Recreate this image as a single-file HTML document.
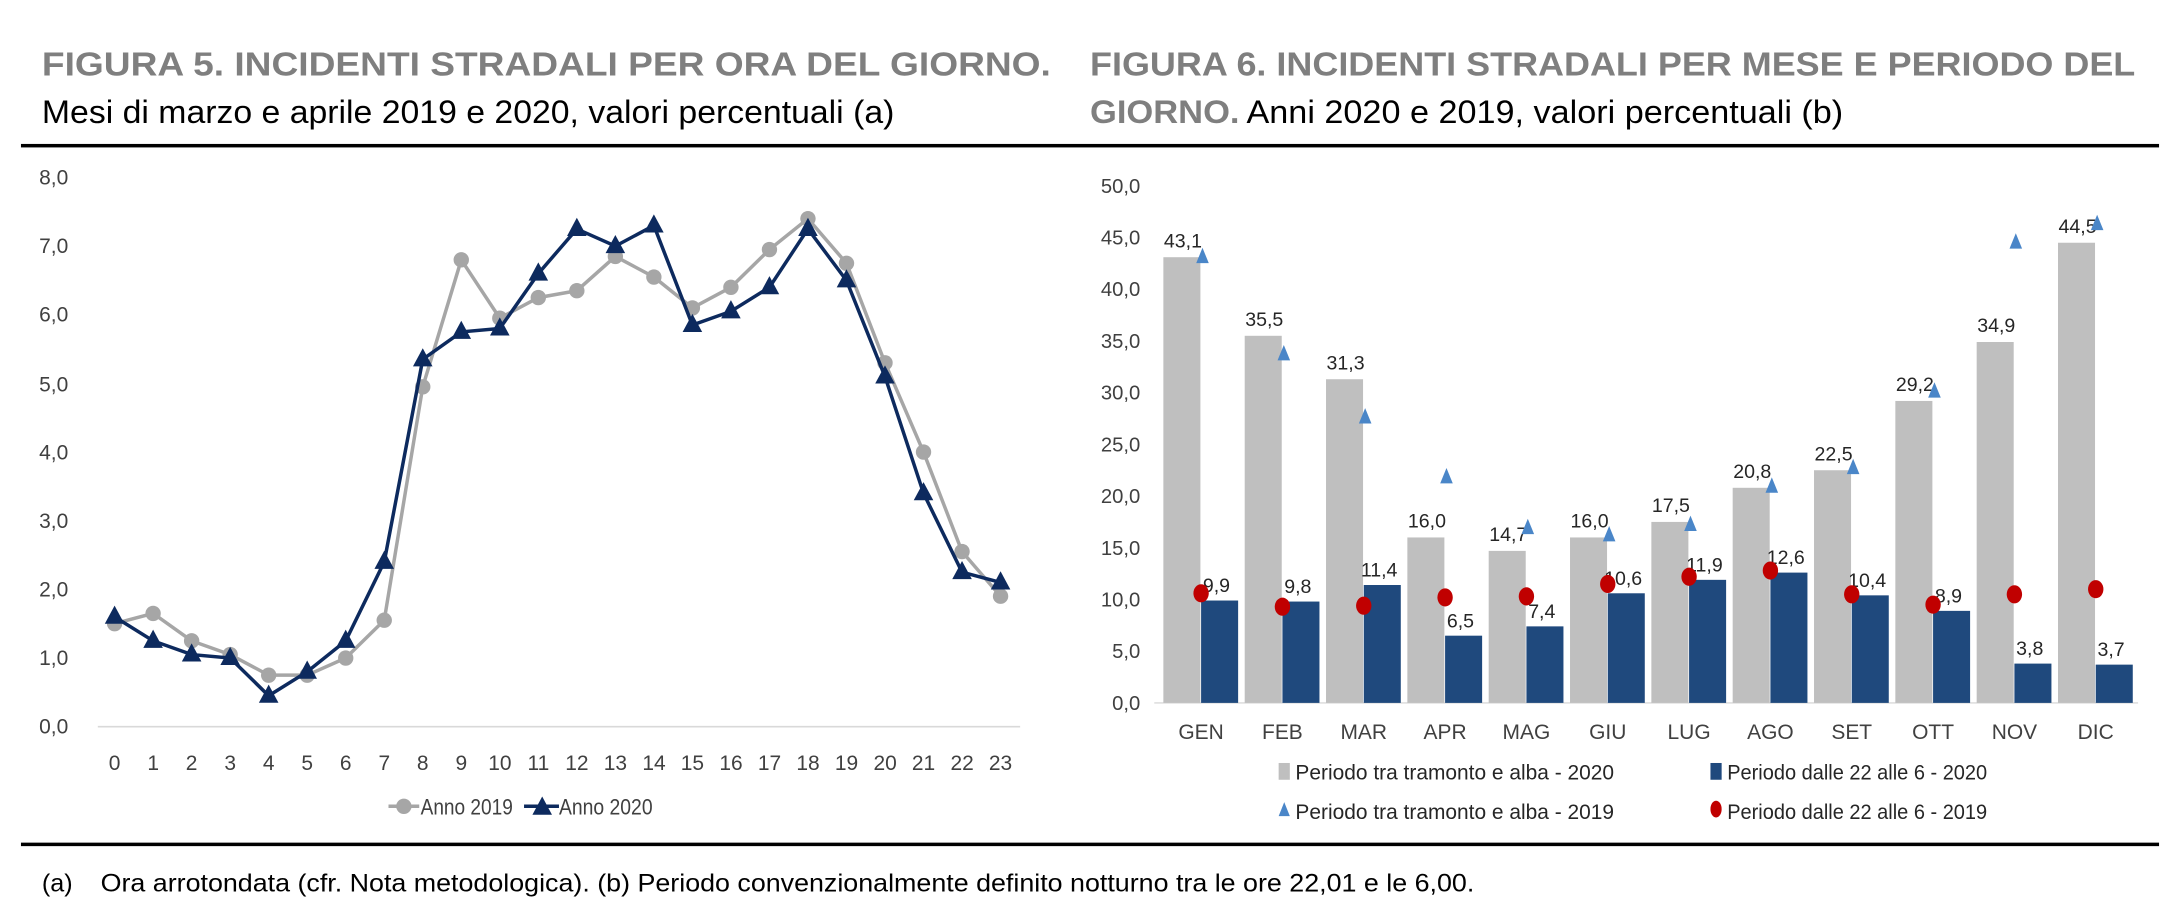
<!DOCTYPE html>
<html><head><meta charset="utf-8"><style>
html,body{margin:0;padding:0;background:#fff;width:2180px;height:916px;overflow:hidden}
svg{display:block}
text{font-family:"Liberation Sans Narrow","Liberation Sans",sans-serif}
</style></head><body>
<svg width="2180" height="916" viewBox="0 0 1560 655.5" preserveAspectRatio="none" xmlns="http://www.w3.org/2000/svg">
<text x="30" y="54" font-size="24" font-weight="bold" fill="#7f7f7f" textLength="722" lengthAdjust="spacingAndGlyphs">FIGURA 5. INCIDENTI STRADALI PER ORA DEL GIORNO.</text>
<text x="30" y="88" font-size="23" fill="#000" textLength="610" lengthAdjust="spacingAndGlyphs">Mesi di marzo e aprile 2019 e 2020, valori percentuali (a)</text>
<text x="780" y="54" font-size="24" font-weight="bold" fill="#7f7f7f" textLength="748" lengthAdjust="spacingAndGlyphs">FIGURA 6. INCIDENTI STRADALI PER MESE E PERIODO DEL</text>
<text x="780" y="88" font-size="23" fill="#7f7f7f" font-weight="bold" textLength="107" lengthAdjust="spacingAndGlyphs">GIORNO.</text>
<text x="892" y="88" font-size="23" fill="#000" textLength="427" lengthAdjust="spacingAndGlyphs">Anni 2020 e 2019, valori percentuali (b)</text>
<rect x="15" y="103" width="1530" height="2.5" fill="#000"/>
<rect x="15" y="603" width="1530" height="2.5" fill="#000"/>
<text x="30" y="638" font-size="18" fill="#000">(a)</text>
<text x="72" y="638" font-size="18" fill="#000" textLength="983" lengthAdjust="spacingAndGlyphs">Ora arrotondata (cfr. Nota metodologica). (b) Periodo convenzionalmente definito notturno tra le ore 22,01 e le 6,00.</text>

<g font-size="15" fill="#404040">
<text x="28" y="132">8,0</text><text x="28" y="181">7,0</text><text x="28" y="230">6,0</text><text x="28" y="280">5,0</text><text x="28" y="329">4,0</text><text x="28" y="378">3,0</text><text x="28" y="427">2,0</text><text x="28" y="476">1,0</text><text x="28" y="525">0,0</text>
</g>
<line x1="70" y1="520" x2="730" y2="520" stroke="#d9d9d9" stroke-width="1.2"/>
<g font-size="15" fill="#404040" text-anchor="middle">
<text x="82" y="551">0</text><text x="109.6" y="551">1</text><text x="137.1" y="551">2</text><text x="164.7" y="551">3</text><text x="192.3" y="551">4</text><text x="219.8" y="551">5</text><text x="247.4" y="551">6</text><text x="275" y="551">7</text><text x="302.5" y="551">8</text><text x="330.1" y="551">9</text><text x="357.7" y="551">10</text><text x="385.3" y="551">11</text><text x="412.8" y="551">12</text><text x="440.4" y="551">13</text><text x="468" y="551">14</text><text x="495.5" y="551">15</text><text x="523.1" y="551">16</text><text x="550.7" y="551">17</text><text x="578.2" y="551">18</text><text x="605.8" y="551">19</text><text x="633.4" y="551">20</text><text x="660.9" y="551">21</text><text x="688.5" y="551">22</text><text x="716" y="551">23</text>
</g>
<g id="s19"></g>
<g id="s20"></g>
<line x1="278" y1="577" x2="300" y2="577" stroke="#a6a6a6" stroke-width="2.5"/><circle cx="289" cy="577" r="5.5" fill="#a6a6a6"/>
<text x="301" y="583" font-size="16" fill="#404040" textLength="66" lengthAdjust="spacingAndGlyphs">Anno 2019</text>
<line x1="375" y1="577" x2="400" y2="577" stroke="#0d2a5e" stroke-width="2.5"/><polygon points="388,570 395,583 381,583" fill="#0d2a5e"/>
<text x="400" y="583" font-size="16" fill="#404040" textLength="67" lengthAdjust="spacingAndGlyphs">Anno 2020</text>

<g font-size="14.5" fill="#404040" text-anchor="end">
<text x="816" y="138">50,0</text><text x="816" y="175">45,0</text><text x="816" y="212">40,0</text><text x="816" y="249">35,0</text><text x="816" y="286">30,0</text><text x="816" y="323">25,0</text><text x="816" y="360">20,0</text><text x="816" y="397">15,0</text><text x="816" y="434">10,0</text><text x="816" y="471">5,0</text><text x="816" y="508">0,0</text>
</g>
<line x1="826" y1="503" x2="1530" y2="503" stroke="#d9d9d9" stroke-width="1"/>
<g id="bars"></g>
<rect x="915" y="546" width="8" height="12" fill="#bfbfbf"/>
<text x="927" y="558" font-size="15" fill="#262626" textLength="228" lengthAdjust="spacingAndGlyphs">Periodo tra tramonto e alba - 2020</text>
<rect x="1224" y="546" width="8" height="12" fill="#1f497d"/>
<text x="1236" y="558" font-size="15" fill="#262626" textLength="186" lengthAdjust="spacingAndGlyphs">Periodo dalle 22 alle 6 - 2020</text>
<polygon points="919,574 923,584 915,584" fill="#4a86c8"/>
<text x="927" y="586" font-size="15" fill="#262626" textLength="228" lengthAdjust="spacingAndGlyphs">Periodo tra tramonto e alba - 2019</text>
<ellipse cx="1228" cy="579" rx="4" ry="6" fill="#c00000"/>
<text x="1236" y="586" font-size="15" fill="#262626" textLength="186" lengthAdjust="spacingAndGlyphs">Periodo dalle 22 alle 6 - 2019</text>
</svg>
<script>
var NS="http://www.w3.org/2000/svg";
function el(p,t,a,txt){var e=document.createElementNS(NS,t);for(var k in a)e.setAttribute(k,a[k]);if(txt!==undefined)e.textContent=txt;p.appendChild(e);return e;}
var a=[1.5,1.65,1.25,1.05,0.75,0.75,1.0,1.55,4.95,6.8,5.95,6.25,6.35,6.85,6.55,6.1,6.4,6.95,7.4,6.75,5.3,4.0,2.55,1.9];
var b=[1.6,1.25,1.05,1.0,0.45,0.8,1.25,2.4,5.35,5.75,5.8,6.6,7.25,7.0,7.3,5.85,6.05,6.4,7.25,6.5,5.1,3.4,2.25,2.1];
function X(i){return 82+i*27.565;}function Y(v){return 520-v*49.125;}
var g1=document.getElementById('s19'),g2=document.getElementById('s20');
el(g1,'polyline',{points:a.map(function(v,i){return X(i)+','+Y(v)}).join(' '),fill:'none',stroke:'#a6a6a6','stroke-width':2.5});
a.forEach(function(v,i){el(g1,'circle',{cx:X(i),cy:Y(v),r:5.5,fill:'#a6a6a6'});});
el(g2,'polyline',{points:b.map(function(v,i){return X(i)+','+Y(v)}).join(' '),fill:'none',stroke:'#0d2a5e','stroke-width':2.5});
b.forEach(function(v,i){var x=X(i),y=Y(v);el(g2,'polygon',{points:x+','+(y-8)+' '+(x+7)+','+(y+5)+' '+(x-7)+','+(y+5),fill:'#0d2a5e'});});
var m=['GEN','FEB','MAR','APR','MAG','GIU','LUG','AGO','SET','OTT','NOV','DIC'];
var g=[43.1,35.5,31.3,16.0,14.7,16.0,17.5,20.8,22.5,29.2,34.9,44.5];
var bl=[9.9,9.8,11.4,6.5,7.4,10.6,11.9,12.6,10.4,8.9,3.8,3.7];
var tr=[43.2,33.8,27.7,21.9,17.0,16.3,17.3,21.0,22.8,30.2,44.6,46.4];
var rd=[10.6,9.3,9.4,10.2,10.3,11.5,12.2,12.8,10.5,9.5,10.5,11.0];
var G=document.getElementById('bars');
function RY(v){return 503-v*7.4;}
function f(v){return v.toFixed(1).replace('.',',');}
m.forEach(function(n,i){var c=859.5+i*58.2;
el(G,'rect',{x:c-27,y:RY(g[i]),width:26.5,height:g[i]*7.4,fill:'#bfbfbf'});
el(G,'rect',{x:c,y:RY(bl[i]),width:26.5,height:bl[i]*7.4,fill:'#1f497d'});
el(G,'text',{x:c-13,y:RY(g[i])-7,'font-size':14,fill:'#262626','text-anchor':'middle'},f(g[i]));
el(G,'text',{x:c+11,y:RY(bl[i])-6,'font-size':14,fill:'#262626','text-anchor':'middle'},f(bl[i]));
var ty=RY(tr[i]);el(G,'polygon',{points:(c+1)+','+(ty-6)+' '+(c+5.5)+','+(ty+5)+' '+(c-3.5)+','+(ty+5),fill:'#4a86c8'});
el(G,'ellipse',{cx:c,cy:RY(rd[i]),rx:5.5,ry:6.5,fill:'#c00000'});
el(G,'text',{x:c,y:529,'font-size':15,fill:'#404040','text-anchor':'middle'},n);
});
</script>
</body></html>
